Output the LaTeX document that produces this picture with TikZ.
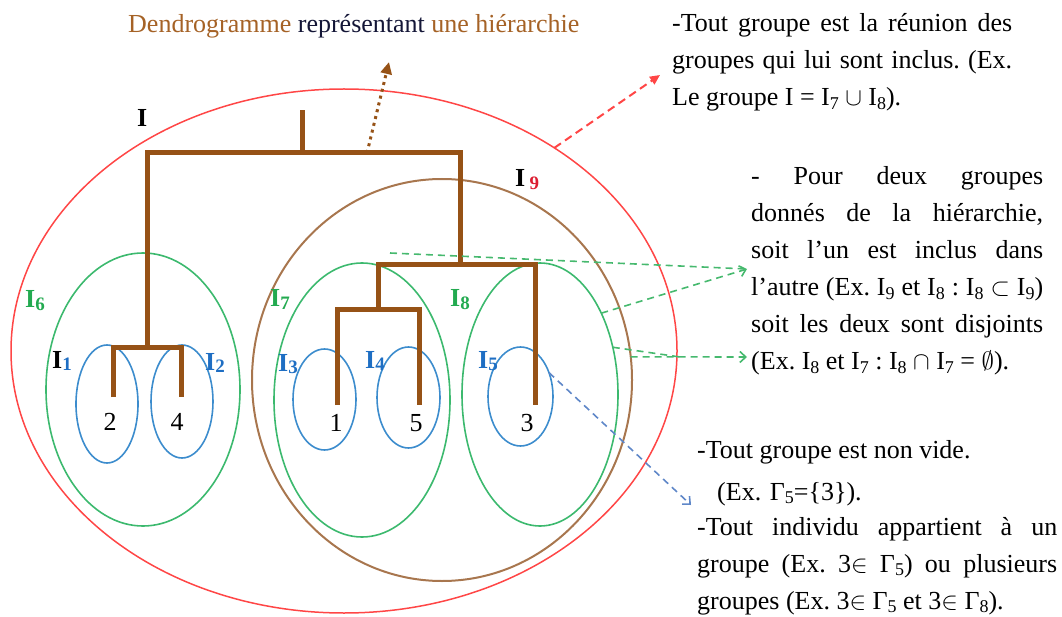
\documentclass[tikz,border=0pt]{standalone}
\usepackage{fontspec}
\setmainfont{Liberation Serif}
\usetikzlibrary{shapes.geometric,arrows.meta}
\definecolor{redE}{RGB}{255,70,70}
\definecolor{brownE}{RGB}{168,118,78}
\definecolor{greenE}{RGB}{60,185,110}
\definecolor{blueE}{RGB}{60,140,205}
\definecolor{dendro}{RGB}{150,82,22}
\definecolor{titleb}{RGB}{165,98,38}
\definecolor{navy}{RGB}{20,22,55}
\definecolor{labgreen}{RGB}{35,170,80}
\definecolor{labblue}{RGB}{30,110,195}
\definecolor{labred}{RGB}{220,30,50}
\definecolor{gdashc}{RGB}{70,185,110}
\definecolor{bdashc}{RGB}{95,135,200}
\newcommand\tsub[1]{\raisebox{-0.12em}{\fontsize{18}{18}\selectfont #1}}
\newcommand\lsub[2]{\raisebox{-0.1em}{\fontsize{19}{19}\selectfont\bfseries\color{#1}#2}}
\begin{document}
\begin{tikzpicture}[x=1pt,y=-1pt,
  grp/.style={ellipse, draw, inner sep=0pt, outer sep=0pt, line width=1.6pt},
  dendrol/.style={draw=dendro, line width=5pt, line join=miter},
  lbl/.style={font=\fontsize{26}{26}\selectfont\bfseries, inner sep=0pt, anchor=base west},
  num/.style={font=\fontsize{26}{26}\selectfont, inner sep=0pt, anchor=base},
  txt/.style={font=\fontsize{26}{37}\selectfont, inner sep=0pt, anchor=base west, align=left},
  gdash/.style={draw=gdashc, line width=1.6pt, dash pattern=on 7pt off 5pt},
  bdash/.style={draw=bdashc, line width=1.6pt, dash pattern=on 7pt off 5pt},
  barb/.style={-{Straight Barb[length=6pt,width=11pt]}},
]
\useasboundingbox (0,0) rectangle (1062,617);

% groups (ellipses)
\node[grp, draw=redE, line width=1.5pt, minimum width=666pt, minimum height=524pt] (gI) at (344,351) {};
\node[grp, draw=brownE, line width=2pt, minimum width=380pt, minimum height=402pt] (gI9) at (442,380) {};
\node[grp, draw=greenE, minimum width=194pt, minimum height=273pt] (gI6) at (143,389.5) {};
\node[grp, draw=greenE, minimum width=176pt, minimum height=274pt] (gI7) at (362,400) {};
\node[grp, draw=greenE, minimum width=156pt, minimum height=263pt] (gI8) at (540,394.5) {};
\node[grp, draw=blueE, minimum width=62pt, minimum height=118pt] (gI1) at (107,404) {};
\node[grp, draw=blueE, minimum width=62pt, minimum height=113pt] (gI2) at (182,401.5) {};
\node[grp, draw=blueE, minimum width=63pt, minimum height=101pt] (gI3) at (324.5,399.5) {};
\node[grp, draw=blueE, minimum width=63pt, minimum height=101pt] (gI4) at (408.5,397.5) {};
\node[grp, draw=blueE, minimum width=65pt, minimum height=99pt] (gI5) at (520.5,396.5) {};

% dendrogram
\coordinate (l2) at (113,397);
\coordinate (l4) at (181,397);
\coordinate (l1) at (337,405);
\coordinate (l5) at (419,405);
\coordinate (l3) at (535,405);
\coordinate (a) at (147,347);
\coordinate (b) at (378,310);
\coordinate (c) at (460,265);
\coordinate (r) at (302,153);
\coordinate (rt) at (302,110);
\draw[dendrol] (l2) |- (a) -| (l4);
\draw[dendrol] (l1) |- (b) -| (l5);
\draw[dendrol] (b) |- (c) -| (l3);
\draw[dendrol] (a) |- (r) -| (c);
\draw[dendrol] (r) -- (rt);

% individuals
\node[num] (n2) at (110,430) {2};
\node[num] (n4) at (177,430) {4};
\node[num] (n1) at (336,431) {1};
\node[num] (n5) at (416,431) {5};
\node[num] (n3) at (527,431) {3};

% group labels
\node[lbl] (LI) at (137,127) {I};
\node[lbl] (L9) at (515,187) {I\,\lsub{labred}{9}};
\node[lbl, text=labgreen] (L6) at (25,308) {I\lsub{labgreen}{6}};
\node[lbl, text=labgreen] (L7) at (270,307) {I\lsub{labgreen}{7}};
\node[lbl, text=labgreen] (L8) at (450,307) {I\lsub{labgreen}{8}};
\node[lbl] (L1) at (52,368) {I\lsub{labblue}{1}};
\node[lbl, text=labblue] (L2) at (205,370) {I\lsub{labblue}{2}};
\node[lbl, text=labblue] (L3) at (278,371) {I\lsub{labblue}{3}};
\node[lbl, text=labblue] (L4) at (365,368) {I\lsub{labblue}{4}};
\node[lbl, text=labblue] (L5) at (478,368) {I\lsub{labblue}{5}};

% title
\node[txt] (title) at (128,33) {\textcolor{titleb}{Dendrogramme} \textcolor{navy}{représentant} \textcolor{titleb}{une hiérarchie}};

% text blocks
\node[txt] (T1) at (672,32) {\parbox[t]{340pt}{\frenchspacing -Tout groupe est la réunion des\linebreak groupes qui lui sont inclus. (Ex.\linebreak Le groupe I = I\tsub{7} $\cup$ I\tsub{8}).}};
\node[txt] (T2) at (751,185) {\parbox[t]{292pt}{\frenchspacing - Pour deux groupes\linebreak donnés de la hiérarchie,\linebreak soit l'un est inclus dans\linebreak l'autre (Ex. I\tsub{9} et I\tsub{8} : I\tsub{8} $\subset$ I\tsub{9})\linebreak soit les deux sont disjoints\linebreak (Ex. I\tsub{8} et I\tsub{7} : I\tsub{8} $\cap$ I\tsub{7} = $\emptyset$).}};
\node[txt] (T3a) at (697,458) {-Tout groupe est non vide.};
\node[txt] (T3b) at (717,500) {(Ex. Γ\tsub{5}=\{3\}).};
\node[txt] (T3c) at (697,535) {\parbox[t]{360pt}{\frenchspacing -Tout individu appartient à un\linebreak groupe (Ex. 3$\in$ Γ\tsub{5}) ou plusieurs\linebreak groupes (Ex. 3$\in$ Γ\tsub{5} et 3$\in$ Γ\tsub{8}).}};

% connectors
\coordinate (dotS) at (367,153);
\coordinate (dotE) at (389,62);
\draw[dendro, line width=3pt, dash pattern=on 3pt off 4pt, -{Triangle[length=12pt,width=11pt]}] (dotS) -- (dotE);
\coordinate (redT) at (660,75);
\draw[redE, line width=2pt, dash pattern=on 8pt off 5pt, -{Triangle[length=10pt,width=9pt]}] (gI.44) -- (redT);
\coordinate (gA0) at (390,253);
\coordinate (tipA) at (747,269);
\draw[gdash] (gA0) -- (tipA);
\draw[gdash, barb] (gI8.53) -- (tipA);
\coordinate (mB) at (680,357);
\coordinate (tipB) at (747,357);
\draw[gdash] (gI8.33) -- (mB);
\draw[gdash, barb] (gI9.7) -- (tipB);
\coordinate (tipC) at (691,505);
\draw[bdash, barb] (gI5.40) -- (tipC);
\end{tikzpicture}
\end{document}
